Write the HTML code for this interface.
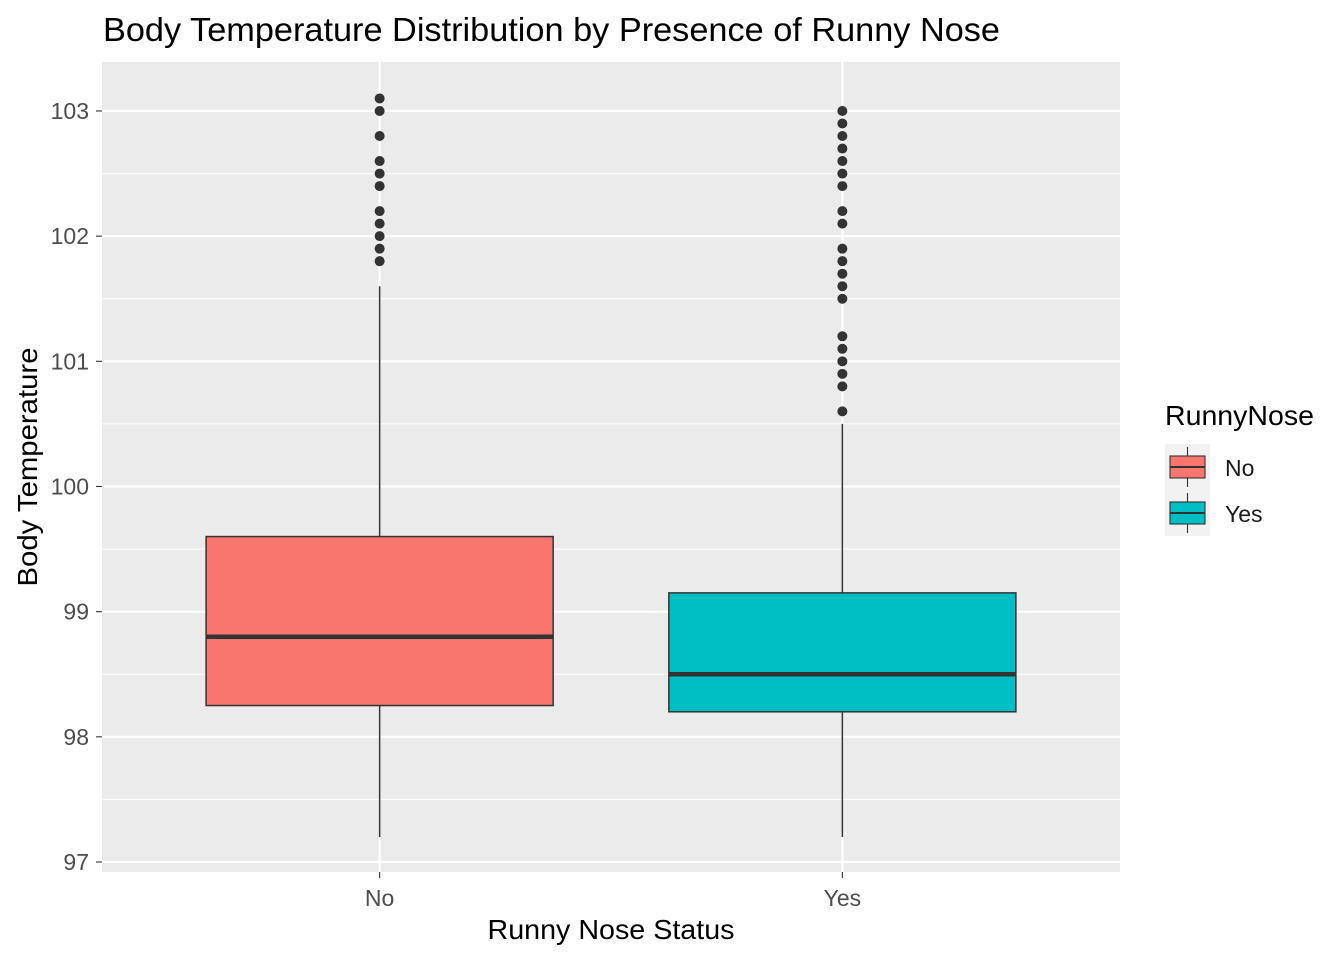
<!DOCTYPE html>
<html><head><meta charset="utf-8"><style>
body{margin:0;background:#fff;}
text{font-family:"Liberation Sans",Arial,sans-serif;}
</style></head><body>
<svg id="chart" width="1344" height="960" xmlns="http://www.w3.org/2000/svg">
<rect width="1344" height="960" fill="#fff"/>
<text x="103" y="41" font-size="33" textLength="897" lengthAdjust="spacingAndGlyphs" fill="#000">Body Temperature Distribution by Presence of Runny Nose</text>
<rect x="102" y="62" width="1018" height="810" fill="#ebebeb"/>
<g id="grid"></g>
<g id="marks"></g>
<g id="axes"></g>
<text x="611" y="939" font-size="28" textLength="247" lengthAdjust="spacingAndGlyphs" text-anchor="middle" fill="#000">Runny Nose Status</text>
<text transform="translate(37,467) rotate(-90)" font-size="28" textLength="239" lengthAdjust="spacingAndGlyphs" text-anchor="middle" fill="#000">Body Temperature</text>
<g>
<text x="1165" y="425" font-size="28" textLength="149" lengthAdjust="spacingAndGlyphs" fill="#000">RunnyNose</text>
<rect x="1165" y="444" width="45" height="46" fill="#f2f2f2"/>
<rect x="1165" y="490" width="45" height="46" fill="#f2f2f2"/>
<g>
<line x1="1187.5" y1="447" x2="1187.5" y2="487" stroke="#333" stroke-width="1.1"/>
<rect x="1170" y="456" width="35" height="22" fill="#F8766D" stroke="#333" stroke-width="1.1"/>
<line x1="1170" y1="467" x2="1205" y2="467" stroke="#333" stroke-width="2"/>
<text x="1225" y="476" font-size="23" fill="#1a1a1a">No</text></g>
<g>
<line x1="1187.5" y1="493" x2="1187.5" y2="533" stroke="#333" stroke-width="1.1"/>
<rect x="1170" y="502" width="35" height="22" fill="#00BFC4" stroke="#333" stroke-width="1.1"/>
<line x1="1170" y1="513" x2="1205" y2="513" stroke="#333" stroke-width="2"/>
<text x="1225" y="522" font-size="23" fill="#1a1a1a">Yes</text></g>
</g>
</svg>
<script>
const categories=["No","Yes"];
const q1=[98.25,98.2];
const medians=[98.8,98.5];
const q3=[99.6,99.15];
const whiskLow=[97.2,97.2];
const whiskHigh=[101.6,100.5];
const outliersNo=[101.8,101.9,102.0,102.1,102.2,102.4,102.5,102.6,102.8,103.0,103.1];
const outliersYes=[100.6,100.8,100.9,101.0,101.1,101.2,101.5,101.6,101.7,101.8,101.9,102.1,102.2,102.4,102.5,102.6,102.7,102.8,102.9,103.0];
const colors=["#F8766D","#00BFC4"];
const yTicks=[97,98,99,100,101,102,103];

const NS="http://www.w3.org/2000/svg";
const PX=102,PW=1018,PY=62;
const y=v=>862-(v-97)*125.17;
const unit=PW/(categories.length+0.2);
const x=i=>PX+(i+0.6)*unit;
function mk(tag,attrs,parent){const e=document.createElementNS(NS,tag);for(const k in attrs)e.setAttribute(k,attrs[k]);parent.appendChild(e);return e;}
const grid=document.getElementById('grid'),marks=document.getElementById('marks'),axes=document.getElementById('axes');
for(let i=0;i<yTicks.length;i++){
  const t=yTicks[i];
  let g=mk('line',{x1:PX,x2:PX+PW,y1:y(t),y2:y(t),stroke:'#fff','stroke-width':2.1},grid);
  
  if(i<yTicks.length-1){let m=mk('line',{x1:PX,x2:PX+PW,y1:y(t+0.5),y2:y(t+0.5),stroke:'#fff','stroke-width':1},grid);
  }
  mk('line',{x1:96,x2:102,y1:y(t),y2:y(t),stroke:'#333','stroke-width':1.1},axes);
  let tx=mk('text',{x:89,y:y(t)+8,'font-size':23,'text-anchor':'end',fill:'#4d4d4d'},axes);tx.textContent=t;
  
}
const outs=[outliersNo,outliersYes];
categories.forEach((c,i)=>{
  const cx=x(i);
  let g=mk('line',{x1:cx,x2:cx,y1:PY,y2:PY+810,stroke:'#fff','stroke-width':2.1},grid);
  
  const grp=mk('g',{},marks);
  
  mk('line',{x1:cx,x2:cx,y1:y(whiskLow[i]),y2:y(q1[i]),stroke:'#333','stroke-width':1.5},grp);
  mk('line',{x1:cx,x2:cx,y1:y(q3[i]),y2:y(whiskHigh[i]),stroke:'#333','stroke-width':1.5},grp);
  const bw=unit*0.75;
  mk('rect',{x:cx-bw/2,y:y(q3[i]),width:bw,height:y(q1[i])-y(q3[i]),fill:colors[i],stroke:'#333','stroke-width':1.5},grp);
  mk('line',{x1:cx-bw/2,x2:cx+bw/2,y1:y(medians[i]),y2:y(medians[i]),stroke:'#333','stroke-width':4.5},grp);
  outs[i].forEach(v=>{let p=mk('circle',{cx:cx,cy:y(v),r:5,fill:'#333'},grp);
    });
  mk('line',{x1:cx,x2:cx,y1:872,y2:878,stroke:'#333','stroke-width':1.1},axes);
  let tx=mk('text',{x:cx,y:906,'font-size':23,'text-anchor':'middle',fill:'#4d4d4d'},axes);tx.textContent=c;
  
});
</script>
</body></html>
